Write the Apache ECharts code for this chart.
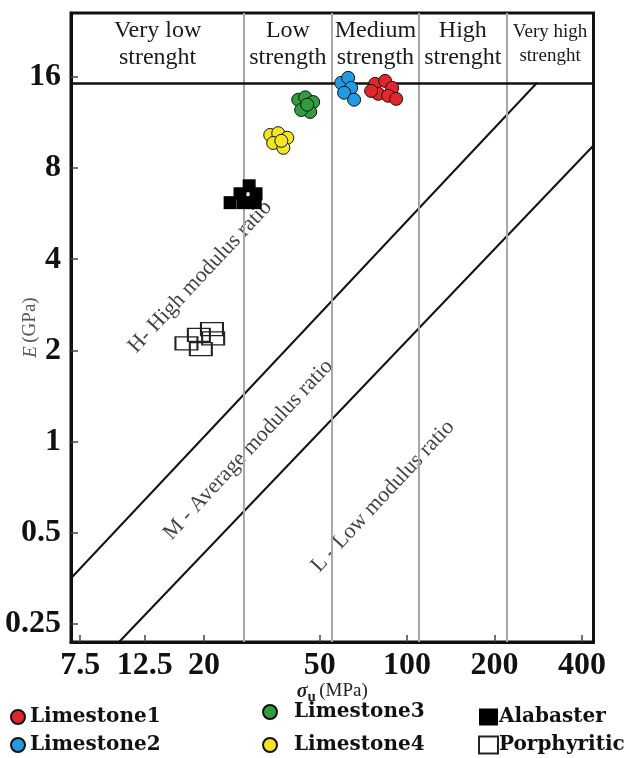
<!DOCTYPE html>
<html><head><meta charset="utf-8">
<script src="https://cdn.jsdelivr.net/npm/echarts@6/dist/echarts.min.js"></script>
<style>html,body{margin:0;padding:0;background:#fff}#c{width:633px;height:758px}</style>
</head><body><div id="c"></div>
<script>
// ---- data ----
const xTicks = [7.5, 12.5, 20, 50, 100, 200, 400];
const yTicks = [0.25, 0.5, 1, 2, 4, 8, 16];
const xRange = [6.97, 438];
const yRange = [0.218, 26];
const strengthBounds = [27.5, 55, 110, 220];
const strengthClasses = ['Very low\nstrenght', 'Low\nstrength', 'Medium\nstrength', 'High\nstrenght', 'Very high\nstrenght'];
const headerLimit = 15.3;
const lineHigh = [[6.97, 0.354], [280, 15.3]];
const lineLow = [[10.2, 0.218], [438, 9.5]];
const ratioLabels = ['H- High modulus ratio', 'M - Average modulus ratio', 'L - Low modulus ratio'];
const ratioLabelAt = [[19.4, 3.5], [28.4, 0.94], [82.5, 0.66]];
const limestone1 = [[77.6, 15.17], [84.0, 15.52], [88.8, 14.72], [79.5, 14.07], [86.0, 13.86], [75.2, 14.38], [91.7, 13.54]];
const limestone2 = [[59.3, 15.28], [62.7, 15.88], [64.2, 14.72], [60.7, 14.18], [65.7, 13.45]];
const limestone3 = [[42.2, 13.45], [44.6, 13.7], [47.5, 13.21], [46.4, 12.26], [43.2, 12.44], [45.3, 12.95]];
const limestone4 = [[33.8, 10.29], [36.0, 10.43], [38.7, 10.07], [34.6, 9.68], [37.5, 9.33], [36.9, 9.84]];
const alabaster = [[28.6, 6.99], [26.6, 6.58], [30.2, 6.58], [24.6, 6.15], [27.3, 6.15], [30.0, 6.15]];
const porphyritic = [[17.4, 2.11], [19.2, 2.25], [21.3, 2.35], [21.5, 2.19], [19.5, 2.02]];

// ---- chart ----
const serif = 'Liberation Serif';
const edges = [xRange[0]].concat(strengthBounds, [xRange[1]]);
const headerAreas = strengthClasses.map((name, i) => [
  { name: name, xAxis: edges[i], yAxis: headerLimit },
  { xAxis: edges[i + 1], yAxis: yRange[1] }
]);

const circle = (name, color, data) => ({
  name, type: 'scatter', data, symbol: 'circle', symbolSize: 13, z: 5,
  itemStyle: { color, borderColor: '#111', borderWidth: 1, opacity: 1 }
});
const legendText = { fontFamily: 'DejaVu Serif', fontWeight: 'bold', fontSize: 20, color: '#111' };

const chart = echarts.init(document.getElementById('c'), null, { renderer: 'canvas' });
chart.setOption({
  animation: false,
  backgroundColor: '#fff',
  grid: { left: 71, right: 39.5, top: 13, bottom: 116, containLabel: false, outerBoundsMode: 'none',
    show: true, borderColor: '#111', borderWidth: 3, backgroundColor: 'transparent' },
  xAxis: {
    type: 'log', logBase: 2, min: xRange[0], max: xRange[1],
    axisLine: { show: true, lineStyle: { color: '#111', width: 3 } },
    axisTick: { show: true, inside: true, length: 7, customValues: xTicks, lineStyle: { color: '#444', width: 1.5 } },
    axisLabel: { customValues: xTicks, margin: 8, fontFamily: serif, fontWeight: 'bold', fontSize: 32, color: '#111' },
    splitLine: { show: false }, minorTick: { show: false },
    name: '{s|σ}{u|u} {m|(MPa)}', nameLocation: 'middle', nameGap: 36, nameMoveOverlap: false,
    nameTextStyle: {
      rich: {
        s: { fontFamily: serif, fontStyle: 'italic', fontWeight: 'bold', fontSize: 20, color: '#222' },
        u: { fontFamily: serif, fontWeight: 'bold', fontSize: 15, color: '#222', padding: [12, 0, 0, 0] },
        m: { fontFamily: serif, fontSize: 19, color: '#222' }
      }
    }
  },
  yAxis: {
    type: 'log', logBase: 2, min: yRange[0], max: yRange[1],
    axisLine: { show: true, lineStyle: { color: '#111', width: 3 } },
    axisTick: { show: true, inside: true, length: 7, customValues: yTicks, lineStyle: { color: '#444', width: 1.5 } },
    axisLabel: { customValues: yTicks, margin: 10, fontFamily: serif, fontWeight: 'bold', fontSize: 32, color: '#111' },
    splitLine: { show: false }, minorTick: { show: false },
    name: '{i|E} {n|(GPa)}', nameLocation: 'middle', nameGap: 31, nameMoveOverlap: false,
    nameTextStyle: {
      rich: {
        i: { fontFamily: serif, fontStyle: 'italic', fontSize: 19, color: '#555' },
        n: { fontFamily: serif, fontSize: 19, color: '#555' }
      }
    }
  },
  legend: [
    {
      left: 10, top: 707, height: 60, padding: 0, orient: 'vertical', itemGap: 8, itemWidth: 14, itemHeight: 14,
      data: ['Limestone1', 'Limestone2'], textStyle: legendText
    },
    {
      left: 262, top: 702, height: 60, padding: 0, orient: 'vertical', itemGap: 13, itemWidth: 14, itemHeight: 14,
      data: ['Limestone3', 'Limestone4'], textStyle: Object.assign({ padding: [0, 0, 0, 12] }, legendText)
    },
    {
      left: 478, top: 707, height: 60, padding: 0, orient: 'vertical', itemGap: 8, itemWidth: 19, itemHeight: 17,
      data: [{ name: 'Alabaster', icon: 'rect' }, { name: 'Porphyritic', icon: 'rect' }],
      textStyle: Object.assign({ padding: [0, 0, 0, -4] }, legendText)
    }
  ],
  series: [
    {
      name: 'frame', type: 'line', data: [], silent: true,
      markLine: {
        silent: true, symbol: 'none', label: { show: false },
        data: strengthBounds.map(v => ({ xAxis: v, lineStyle: { color: '#a8a8a8', width: 2, type: 'solid' } }))
          .concat([{ yAxis: headerLimit, lineStyle: { color: '#111', width: 2.5, type: 'solid' } }])
      },
      markArea: {
        silent: true, itemStyle: { color: 'rgba(0,0,0,0)' },
        label: {
          show: true, position: 'inside', offset: [0, -4], fontFamily: serif, fontSize: 24, lineHeight: 27, color: '#1a1a1a', align: 'center'
        },
        data: headerAreas.map((a, i) => i === 4
          ? [Object.assign({}, a[0], { label: { fontSize: 19, lineHeight: 24 } }), a[1]]
          : a)
      }
    },
    {
      name: 'H line', type: 'line', data: lineHigh, symbol: 'none', silent: true, z: 3,
      lineStyle: { color: '#111', width: 2 }
    },
    {
      name: 'L line', type: 'line', data: lineLow, symbol: 'none', silent: true, z: 3,
      lineStyle: { color: '#111', width: 2 }
    },
    {
      name: 'ratio labels', type: 'scatter', silent: true, symbolSize: 0, z: 4,
      data: ratioLabelAt.map((p, i) => ({ value: p, name: ratioLabels[i] })),
      label: { show: true, position: 'inside', formatter: p => p.name, rotate: 47, fontFamily: serif, fontSize: 22, color: '#111' }
    },
    circle('Limestone1', '#e3262b', limestone1),
    circle('Limestone2', '#1f9ae3', limestone2),
    circle('Limestone3', '#2f9e41', limestone3),
    circle('Limestone4', '#f3e61d', limestone4),
    {
      name: 'Alabaster', type: 'scatter', data: alabaster, symbol: 'rect', symbolSize: 13, z: 5,
      itemStyle: { color: '#000', borderColor: '#000', borderWidth: 0, opacity: 1 }
    },
    {
      name: 'Porphyritic', type: 'scatter', data: porphyritic, symbol: 'rect', symbolSize: [22, 13], z: 5,
      itemStyle: { color: 'rgba(255,255,255,0)', borderColor: '#222', borderWidth: 1.6, opacity: 1 }
    }
  ]
});
</script></body></html>
